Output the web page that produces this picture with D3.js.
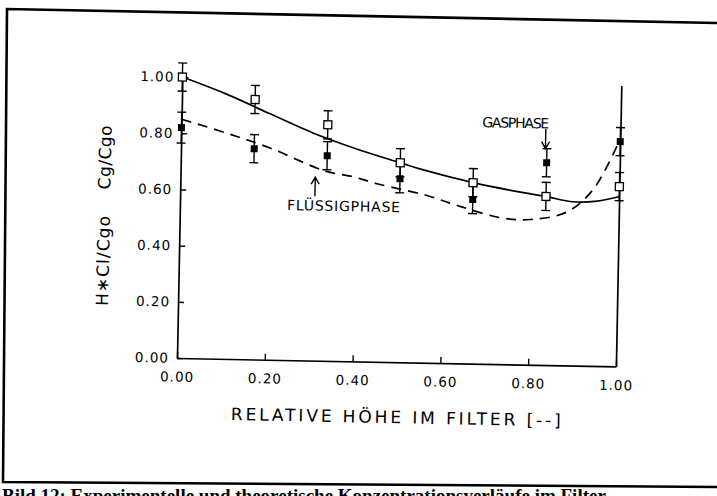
<!DOCTYPE html>
<html><head><meta charset="utf-8">
<script src="https://cdn.jsdelivr.net/npm/d3@7"></script>
<style>body{margin:0;background:#fff;}svg{display:block;}</style>
</head><body>
<svg id="c" width="717" height="496"></svg>
<script>
// ---------- data ----------
const heights = [0, 1/6, 2/6, 3/6, 4/6, 5/6, 1];
const gasValues = [1.00, 0.925, 0.84, 0.71, 0.644, 0.60, 0.64];
const gasErrors = [0.05, 0.05, 0.05, 0.05, 0.05, 0.05, 0.05];
const liquidValues = [0.82, 0.75, 0.73, 0.653, 0.584, 0.72, 0.80];
const liquidErrors = [0.055, 0.05, 0.05, 0.05, 0.05, 0.05, 0.05];
const gasCurveX = [0, 0.1, 0.2, 0.3, 0.4, 0.5, 0.553, 0.667, 0.75, 0.833, 0.895, 0.95, 1.0];
const gasCurveY = [1.00, 0.943, 0.876, 0.81, 0.756, 0.71, 0.686, 0.644, 0.62, 0.60, 0.583, 0.587, 0.604];
const liquidCurveX = [0, 0.1, 0.2, 0.33, 0.39, 0.45, 0.56, 0.64, 0.735, 0.80, 0.88, 0.94, 1.0];
const liquidCurveY = [0.85, 0.805, 0.755, 0.675, 0.658, 0.633, 0.596, 0.558, 0.52, 0.517, 0.545, 0.627, 0.81];
const xTicks = [0, 0.2, 0.4, 0.6, 0.8, 1.0];
const xTickLabels = ["0.00", "0.20", "0.40", "0.60", "0.80", "1.00"];
const yTicks = [0, 0.2, 0.4, 0.6, 0.8, 1.0];
const yTickLabels = ["0.00", "0.20", "0.40", "0.60", "0.80", "1.00"];
const xTitle = "RELATIVE HÖHE IM FILTER [--]";
const yTitleLiquid = "H\u2217Cl/Cgo";
const yTitleGas = "Cg/Cgo";
const gasLabel = "GASPHASE";
const liquidLabel = "FLÜSSIGPHASE";
const caption = "Bild 12: Experimentelle und theoretische Konzentrationsverläufe im Filter";
// annotation anchors (data units)
const gasAnno = {tx: 0.685, ty: 0.86, ax: 0.83, aFrom: 0.84, aTo: 0.77};
const liqAnno = {tx: 0.244, ty: 0.552, ax: 0.307, aFrom: 0.585, aTo: 0.653};

// ---------- drawing ----------
const svg = d3.select("#c");
svg.append("rect").attr("width", 717).attr("height", 496).attr("fill", "#fff");
const FONT = "'DejaVu Sans', sans-serif";

// outer scan frame
svg.append("path")
  .attr("d", "M717,23 L7,9 L3,482 L717,487")
  .attr("fill", "none").attr("stroke", "#000").attr("stroke-width", 2.6);

svg.append("text").attr("x", 2).attr("y", 502)
  .attr("font-family", "'Liberation Serif', serif").attr("font-weight", "bold")
  .attr("font-size", 19).attr("fill", "#000").text(caption);

const x = d3.scaleLinear().domain([0, 1]).range([177, 616]);
const y = d3.scaleLinear().domain([0, 1]).range([358, 77]);
const g = svg.append("g").attr("transform", "rotate(1.1,177,358)");

function styleAxis(sel) {
  sel.select(".domain").attr("stroke", "#000").attr("stroke-width", 1.7);
  sel.selectAll(".tick line").attr("stroke", "#000").attr("stroke-width", 1.4);
  sel.selectAll(".tick text").attr("font-family", FONT).attr("font-size", 13.5)
    .attr("letter-spacing", 1).attr("fill", "#000");
  sel.attr("font-family", FONT);
}
g.append("g").attr("transform", `translate(0,${y(0)})`)
  .call(d3.axisBottom(x).tickValues(xTicks).tickFormat((d, i) => xTickLabels[i])
    .tickSize(-6).tickSizeOuter(0).tickPadding(14))
  .call(styleAxis);
g.append("g").attr("transform", `translate(${x(0)},0)`)
  .call(d3.axisLeft(y).tickValues(yTicks).tickFormat((d, i) => yTickLabels[i])
    .tickSize(-6).tickSizeOuter(0).tickPadding(8))
  .call(styleAxis);
g.append("g").attr("transform", `translate(${x(1)},0)`)
  .call(d3.axisRight(y).tickValues([]).tickSizeOuter(0))
  .call(styleAxis);

// axis titles
g.append("text").attr("x", x(0.125)).attr("y", 419)
  .attr("font-family", FONT).attr("font-size", 17).attr("fill", "#000")
  .attr("textLength", 330).attr("lengthAdjust", "spacing").text(xTitle);
g.append("text").attr("transform", `translate(101,${y(0.18)}) rotate(-90)`)
  .attr("dy", "0.36em").attr("font-family", FONT).attr("font-size", 17).attr("fill", "#000")
  .attr("textLength", 90).attr("lengthAdjust", "spacing").text(yTitleLiquid);
g.append("text").attr("transform", `translate(101,${y(0.595)}) rotate(-90)`)
  .attr("dy", "0.36em").attr("font-family", FONT).attr("font-size", 17).attr("fill", "#000")
  .attr("textLength", 64).attr("lengthAdjust", "spacing").text(yTitleGas);

// curves
const lineGen = d3.line().x(d => x(d[0])).y(d => y(d[1])).curve(d3.curveCatmullRom.alpha(0.5));
g.append("path").attr("d", lineGen(gasCurveX.map((v, i) => [v, gasCurveY[i]])))
  .attr("fill", "none").attr("stroke", "#000").attr("stroke-width", 1.7);
g.append("path").attr("d", lineGen(liquidCurveX.map((v, i) => [v, liquidCurveY[i]])))
  .attr("fill", "none").attr("stroke", "#000").attr("stroke-width", 1.7)
  .attr("stroke-dasharray", "10,7");

// error bars
function errorBars(vals, errs) {
  const eg = g.append("g").attr("stroke", "#000").attr("stroke-width", 1.4);
  heights.forEach((h, i) => {
    const cx = x(h), lo = y(vals[i] - errs[i]), hi = y(vals[i] + errs[i]);
    eg.append("line").attr("x1", cx).attr("x2", cx).attr("y1", lo).attr("y2", hi);
    eg.append("line").attr("x1", cx - 4.5).attr("x2", cx + 4.5).attr("y1", lo).attr("y2", lo);
    eg.append("line").attr("x1", cx - 4.5).attr("x2", cx + 4.5).attr("y1", hi).attr("y2", hi);
  });
}
errorBars(liquidValues, liquidErrors);
errorBars(gasValues, gasErrors);

g.append("g").selectAll("rect").data(liquidValues).join("rect")
  .attr("x", (d, i) => x(heights[i]) - 3.5).attr("y", d => y(d) - 3.5)
  .attr("width", 7).attr("height", 7).attr("fill", "#000");
g.append("g").selectAll("rect").data(gasValues).join("rect")
  .attr("x", (d, i) => x(heights[i]) - 4).attr("y", d => y(d) - 4)
  .attr("width", 8).attr("height", 8).attr("fill", "#fff")
  .attr("stroke", "#000").attr("stroke-width", 1.3);

// annotations
function arrow(ax, from, to) {
  const px = x(ax), y1 = y(from), y2 = y(to);
  const dir = y2 < y1 ? 1 : -1;
  g.append("path")
    .attr("d", `M${px},${y1} L${px},${y2} M${px - 4},${y2 + dir * 7} L${px},${y2} L${px + 4},${y2 + dir * 7}`)
    .attr("fill", "none").attr("stroke", "#000").attr("stroke-width", 1.4);
}
g.append("text").attr("x", x(liqAnno.tx)).attr("y", y(liqAnno.ty)).attr("dy", "0.36em")
  .attr("font-family", FONT).attr("font-size", 14).attr("fill", "#000")
  .attr("textLength", 113).attr("lengthAdjust", "spacing").text(liquidLabel);
arrow(liqAnno.ax, liqAnno.aFrom, liqAnno.aTo);
g.append("text").attr("x", x(gasAnno.tx)).attr("y", y(gasAnno.ty)).attr("dy", "0.36em")
  .attr("font-family", FONT).attr("font-size", 14).attr("fill", "#000")
  .attr("textLength", 67).attr("lengthAdjust", "spacing").text(gasLabel);
arrow(gasAnno.ax, gasAnno.aFrom, gasAnno.aTo);
</script>
</body></html>
